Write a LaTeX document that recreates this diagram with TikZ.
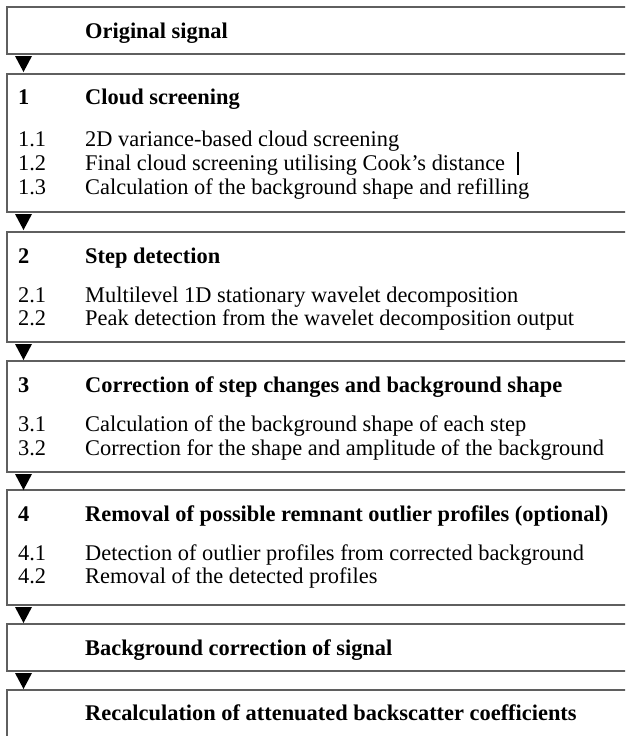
\documentclass[tikz,border=0pt]{standalone}
\usepackage{fontspec}
\setmainfont{Liberation Serif}
\definecolor{boxline}{RGB}{95,95,95}
\tikzset{
  x=1pt, y=-1pt,
  stage/.style={draw=boxline, line width=1.3pt, anchor=north west, minimum width=680pt, inner sep=0pt, outer sep=0pt},
  txt/.style={anchor=base west, inner sep=0pt, font=\fontsize{22.4}{26}\selectfont},
  hd/.style={txt, font=\fontsize{22.4}{26}\selectfont\bfseries},
  tri/.style={fill=black, draw=none}
}
\newcommand{\flowtri}[1]{\fill[black] ([xshift=8pt,yshift=-2pt]#1.south west) -- ++(17,0) -- ++(-8.5,16) -- cycle;}
\begin{document}
\begin{tikzpicture}
\useasboundingbox (0,0) rectangle (625,736);
\clip (0,0) rectangle (625,736);
% boxes
\node[stage, minimum height=47pt] (b1) at (7,7) {};
\node[stage, minimum height=138pt] (b2) at (7,74) {};
\node[stage, minimum height=110pt] (b3) at (7,232) {};
\node[stage, minimum height=111pt] (b4) at (7,361) {};
\node[stage, minimum height=115pt] (b5) at (7,490) {};
\node[stage, minimum height=47pt] (b6) at (7,624) {};
\node[stage, minimum height=80pt] (b7) at (7,690) {};
% arrows
\flowtri{b1}
\flowtri{b2}
\flowtri{b3}
\flowtri{b4}
\flowtri{b5}
\flowtri{b6}
% texts
\node[hd] (t1) at (85,38) {Original signal};
\node[hd] (n2) at (18,104) {1};
\node[hd] (h2) at (85,104) {Cloud screening};
\node[txt] (n21) at (18,146) {1.1};
\node[txt] (s21) at (85,146) {2D variance-based cloud screening};
\node[txt] (n22) at (18,170) {1.2};
\node[txt] (s22) at (85,170) {Final cloud screening utilising Cook’s distance};
\node[txt] (n23) at (18,194) {1.3};
\node[txt] (s23) at (85,194) {Calculation of the background shape and refilling};
\draw[line width=1.2pt] (518,152) -- (518,175);
\node[hd] (n3) at (18,263) {2};
\node[hd] (h3) at (85,263) {Step detection};
\node[txt] (n31) at (18,302) {2.1};
\node[txt] (s31) at (85,302) {Multilevel 1D stationary wavelet decomposition};
\node[txt] (n32) at (18,325) {2.2};
\node[txt] (s32) at (85,325) {Peak detection from the wavelet decomposition output};
\node[hd] (n4) at (18,392) {3};
\node[hd] (h4) at (85,392) {Correction of step changes and background shape};
\node[txt] (n41) at (18,431) {3.1};
\node[txt] (s41) at (85,431) {Calculation of the background shape of each step};
\node[txt] (n42) at (18,455) {3.2};
\node[txt] (s42) at (85,455) {Correction for the shape and amplitude of the background};
\node[hd] (n5) at (18,521) {4};
\node[hd] (h5) at (85,521) {Removal of possible remnant outlier profiles (optional)};
\node[txt] (n51) at (18,560) {4.1};
\node[txt] (s51) at (85,560) {Detection of outlier profiles from corrected background};
\node[txt] (n52) at (18,583) {4.2};
\node[txt] (s52) at (85,583) {Removal of the detected profiles};
\node[hd] (t6) at (85,655) {Background correction of signal};
\node[hd] (t7) at (85,720) {Recalculation of attenuated backscatter coefficients};
\end{tikzpicture}
\end{document}
